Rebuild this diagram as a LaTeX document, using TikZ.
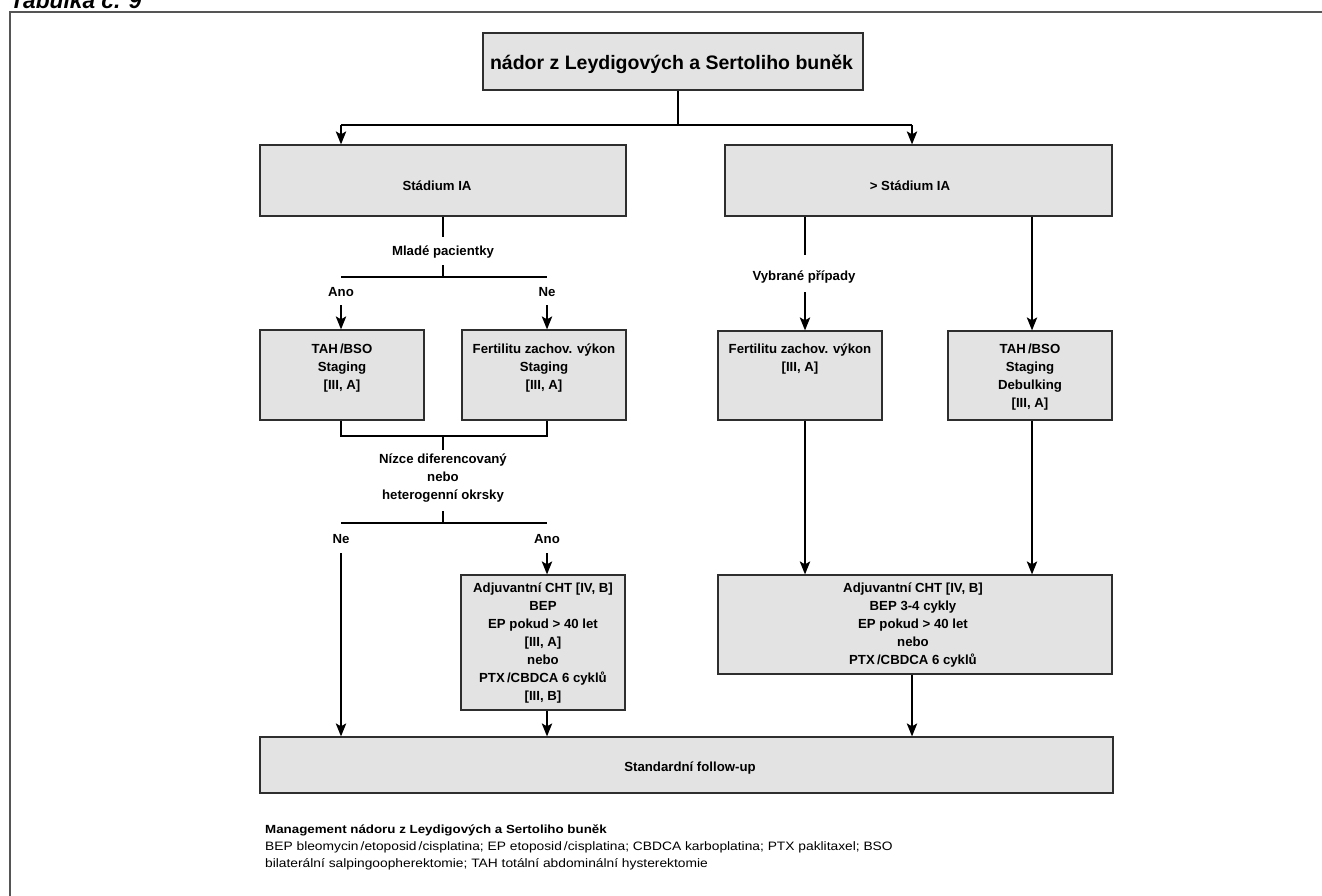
\documentclass[tikz,border=0pt]{standalone}
\usepackage{fontspec}
\setmainfont{Liberation Sans}
\newfontfamily\legendfont[FakeStretch=1.13]{Liberation Sans}
\usetikzlibrary{arrows.meta}
\definecolor{boxfill}{HTML}{E3E3E3}
\definecolor{boxline}{HTML}{2E2E2E}
\definecolor{framegray}{HTML}{555555}

\begin{document}
\begin{tikzpicture}[x=1pt,y=-1pt,
  box/.style={draw=boxline, line width=1.3pt, fill=boxfill, rectangle, inner sep=0pt},
  boxtext/.style={anchor=north, align=center, inner sep=0pt,
    font=\fontsize{13.2}{18}\selectfont\bfseries,
    execute at begin node=\rule{0pt}{13pt}},
  lbl/.style={inner sep=0pt, font=\fontsize{13.2}{18}\selectfont\bfseries,
    text height=9.5pt, text depth=0pt},
  conn/.style={line width=1.2pt},
  arr/.style={conn, -{Stealth[length=13pt,width=10.5pt,inset=3pt]}},
  legend/.style={anchor=base west, inner sep=0pt},
]
\useasboundingbox (0,0) rectangle (1322,895);

% page frame and table caption
\draw[framegray, line width=2pt] (10,910) -- (10,12) -- (1340,12);
\node[anchor=base west, inner sep=0pt,
  font=\fontsize{22.7}{23}\selectfont\bfseries\itshape] (caption) at (10,8.5) {Tabulka č. 9};

% ---------- boxes ----------
\node[box, minimum width=380pt, minimum height=57pt] (top) at (673,61.5) {};
\node[lbl, font=\fontsize{19.5}{20}\selectfont\bfseries, text height=14pt] (toptext) at (671.5,62)
  {nádor z Leydigových a Sertoliho buněk};

\node[box, minimum width=366pt, minimum height=71pt] (st1) at (443,180.5) {};
\node[lbl] (st1text) at (437,186) {Stádium IA};
\node[box, minimum width=387pt, minimum height=71pt] (st2) at (918.5,180.5) {};
\node[lbl] (st2text) at (910,186) {> Stádium IA};

\node[box, minimum width=164pt, minimum height=90pt] (tahL) at (342,375) {};
\node[boxtext] (tahLtext) at (342,343.75) {TAH\,/BSO\\Staging\\{[III, A]}};
\node[box, minimum width=164pt, minimum height=90pt] (ferL) at (544,375) {};
\node[boxtext] (ferLtext) at (544,343.75) {Fertilitu zachov. výkon\\Staging\\{[III, A]}};

\node[box, minimum width=164pt, minimum height=89pt] (ferR) at (800,375.5) {};
\node[boxtext] (ferRtext) at (800,343.75) {Fertilitu zachov. výkon\\{[III, A]}};
\node[box, minimum width=164pt, minimum height=89pt] (tahR) at (1030,375.5) {};
\node[boxtext] (tahRtext) at (1030,343.75) {TAH\,/BSO\\Staging\\Debulking\\{[III, A]}};

\node[box, minimum width=164pt, minimum height=135pt] (adjL) at (543,642.5) {};
\node[boxtext] (adjLtext) at (543,582.75)
  {Adjuvantní CHT [IV, B]\\BEP\\EP pokud > 40 let\\{[III, A]}\\nebo\\PTX\,/CBDCA 6 cyklů\\{[III, B]}};
\node[box, minimum width=394pt, minimum height=99pt] (adjR) at (915,624.5) {};
\node[boxtext] (adjRtext) at (913,582.75)
  {Adjuvantní CHT [IV, B]\\BEP 3-4 cykly\\EP pokud > 40 let\\nebo\\PTX\,/CBDCA 6 cyklů};

\node[box, minimum width=853pt, minimum height=56pt] (std) at (686.5,765) {};
\node[lbl] (stdtext) at (690,767) {Standardní follow-up};

% ---------- decision labels ----------
\node[lbl] (mlade) at (443,251) {Mladé pacientky};
\node[lbl] (ano1) at (341,292) {Ano};
\node[lbl] (ne1) at (547,292) {Ne};
\node[boxtext] (nizce) at (443,453.75) {Nízce diferencovaný\\nebo\\heterogenní okrsky};
\node[lbl] (ne2) at (341,539) {Ne};
\node[lbl] (ano2) at (547,539) {Ano};
\node[lbl] (vybrane) at (804,276) {Vybrané případy};

% ---------- junction points ----------
\coordinate (t0) at (678,125);
\coordinate (t1) at (341,125);
\coordinate (t2) at (912,125);
\coordinate (m1) at (443,237);
\coordinate (m2) at (443,265);
\coordinate (m3) at (443,277);
\coordinate (mL) at (341,277);
\coordinate (mR) at (547,277);
\coordinate (aL) at (341,305);
\coordinate (aR) at (547,305);
\coordinate (n1L) at (341,436);
\coordinate (n1R) at (547,436);
\coordinate (n1c) at (443,436);
\coordinate (n2) at (443,450);
\coordinate (n3) at (443,511);
\coordinate (n4) at (443,523);
\coordinate (n4L) at (341,523);
\coordinate (n4R) at (547,523);
\coordinate (bL) at (341,553);
\coordinate (bR) at (547,553);
\coordinate (v1) at (805,255);
\coordinate (v2) at (805,292);
\coordinate (r1) at (1032,0);
\coordinate (r2) at (912,0);

% ---------- connectors ----------
\draw[conn] (top.south -| t0) -- (t0);
\draw[conn] (t1) -- (t2);
\draw[arr] (t1) -- (st1.north -| t1);
\draw[arr] (t2) -- (st2.north -| t2);

\draw[conn] (st1.south -| m1) -- (m1);
\draw[conn] (m2) -- (m3);
\draw[conn] (mL) -- (mR);
\draw[arr] (aL) -- (tahL.north -| aL);
\draw[arr] (aR) -- (ferL.north -| aR);

\draw[conn] (tahL.south -| n1L) -- (n1L) -- (n1R) -- (ferL.south -| n1R);
\draw[conn] (n1c) -- (n2);
\draw[conn] (n3) -- (n4);
\draw[conn] (n4L) -- (n4R);
\draw[arr] (bL) -- (std.north -| bL);
\draw[arr] (bR) -- (adjL.north -| bR);
\draw[arr] (adjL.south -| bR) -- (std.north -| bR);

\draw[conn] (st2.south -| v1) -- (v1);
\draw[arr] (v2) -- (ferR.north -| v2);
\draw[arr] (st2.south -| r1) -- (tahR.north -| r1);
\draw[arr] (ferR.south -| v2) -- (adjR.north -| v2);
\draw[arr] (tahR.south -| r1) -- (adjR.north -| r1);
\draw[arr] (adjR.south -| r2) -- (std.north -| r2);

% ---------- legend ----------
\node[legend, font=\legendfont\fontsize{11.8}{17}\selectfont\bfseries] (lg1) at (265,833)
  {Management nádoru z Leydigových a Sertoliho buněk};
\node[legend, font=\legendfont\fontsize{12.2}{17}\selectfont] (lg2) at (265,850)
  {BEP bleomycin\,/etoposid\,/cisplatina; EP etoposid\,/cisplatina; CBDCA karboplatina; PTX paklitaxel; BSO};
\node[legend, font=\legendfont\fontsize{12.2}{17}\selectfont] (lg3) at (265,867)
  {bilaterální salpingoopherektomie; TAH totální abdominální hysterektomie};
\end{tikzpicture}
\end{document}
